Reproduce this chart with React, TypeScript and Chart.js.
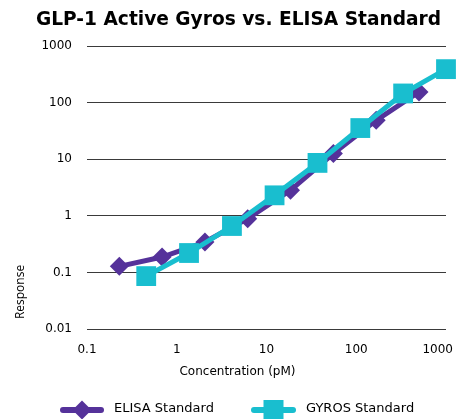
import React, { useEffect, useRef } from "react";
import { Chart, registerables } from "chart.js";

Chart.register(...registerables);

const chartTitle = "GLP-1 Active Gyros vs. ELISA Standard";
const xAxisTitle = "Concentration (pM)";
const yAxisTitle = "Response";

const elisaLabel = "ELISA Standard";
const gyrosLabel = "GYROS Standard";

const elisaX = [0.229, 0.686, 2.06, 6.17, 18.5, 55.6, 166.7, 500];
const elisaY = [0.128, 0.187, 0.344, 0.89, 2.82, 12.6, 48.6, 154];
const gyrosX = [0.457, 1.37, 4.12, 12.3, 37, 111, 333, 1000];
const gyrosY = [0.086, 0.22, 0.66, 2.3, 8.6, 35.5, 145, 390];

const xTickValues = [0.1, 1, 10, 100, 1000];
const xTickLabels = ["0.1", "1", "10", "100", "1000"];
const yTickValues = [0.01, 0.1, 1, 10, 100, 1000];
const yTickLabels = ["0.01", "0.1", "1", "10", "100", "1000"];

const PURPLE = "#55329A";
const CYAN = "#19BECF";
const FONT = "'DejaVu Sans', Verdana, sans-serif";

function drawDiamond(ctx: CanvasRenderingContext2D, x: number, y: number, r: number) {
  ctx.beginPath();
  ctx.moveTo(x, y - r);
  ctx.lineTo(x + r, y);
  ctx.lineTo(x, y + r);
  ctx.lineTo(x - r, y);
  ctx.closePath();
  ctx.fill();
}

const decorPlugin = {
  id: "decor",
  afterDraw(chart: any) {
    const ctx: CanvasRenderingContext2D = chart.ctx;
    const xs = chart.scales.x;
    ctx.save();
    ctx.fillStyle = "#000";
    // title
    ctx.font = `bold 18.6px ${FONT}`;
    ctx.textAlign = "center";
    ctx.textBaseline = "middle";
    ctx.fillText(chartTitle, 238.5, 20);

    // x ticks
    ctx.font = `12px ${FONT}`;
    xTickValues.forEach((v, i) => {
      let px = xs.getPixelForValue(v);
      const w = ctx.measureText(xTickLabels[i]).width;
      if (px + w / 2 > 453) px = 453 - w / 2;
      ctx.fillText(xTickLabels[i], px, 350);
    });

    // x title
    ctx.fillText(xAxisTitle, 237.5, 372);

    // y title
    ctx.save();
    ctx.translate(21, 292);
    ctx.rotate(-Math.PI / 2);
    ctx.font = `12px 'Open Sans', sans-serif`;
    ctx.fillText(yAxisTitle, 0, 0);
    ctx.restore();

    // legend
    const ly = 410;
    ctx.lineCap = "round";
    ctx.lineWidth = 6;
    ctx.strokeStyle = PURPLE;
    ctx.beginPath();
    ctx.moveTo(63, ly);
    ctx.lineTo(101, ly);
    ctx.stroke();
    ctx.fillStyle = PURPLE;
    drawDiamond(ctx, 82, ly, 9.5);

    ctx.strokeStyle = CYAN;
    ctx.beginPath();
    ctx.moveTo(254, ly);
    ctx.lineTo(293, ly);
    ctx.stroke();
    ctx.fillStyle = CYAN;
    ctx.fillRect(263.5, ly - 10, 20, 20);

    ctx.fillStyle = "#000";
    ctx.font = `13px ${FONT}`;
    ctx.textAlign = "left";
    ctx.fillText(elisaLabel, 114, ly - 1);
    ctx.fillText(gyrosLabel, 306, ly - 1);
    ctx.restore();
  },
};

export default function App() {
  const ref = useRef<HTMLCanvasElement | null>(null);
  useEffect(() => {
    if (!ref.current) return;
    document.body.style.margin = "0";
    const chart = new Chart(ref.current, {
      type: "line",
      data: {
        datasets: [
          {
            label: elisaLabel,
            data: elisaX.map((x, i) => ({ x, y: elisaY[i] })),
            borderColor: PURPLE,
            backgroundColor: PURPLE,
            borderWidth: 5,
            pointStyle: "rectRot",
            pointRadius: 9.5,
            pointBorderWidth: 0,
            tension: 0,
            order: 1,
            clip: false,
          },
          {
            label: gyrosLabel,
            data: gyrosX.map((x, i) => ({ x, y: gyrosY[i] })),
            borderColor: CYAN,
            backgroundColor: CYAN,
            borderWidth: 5,
            pointStyle: "rect",
            pointRadius: 14,
            pointBorderWidth: 0,
            tension: 0,
            order: 0,
            clip: false,
          },
        ],
      },
      options: {
        responsive: false,
        animation: false,
        devicePixelRatio: 1,
        layout: { padding: { top: 46, right: 17, bottom: 0, left: 0 } },
        plugins: {
          legend: { display: false },
          title: { display: false },
          tooltip: { enabled: false },
        },
        scales: {
          x: {
            type: "logarithmic",
            min: 0.1,
            max: 1000,
            grid: { display: false },
            border: { display: false },
            ticks: { display: false },
            afterBuildTicks: (s: any) => {
              s.ticks = xTickValues.map((v) => ({ value: v }));
            },
            afterFit: (s: any) => {
              s.height = 90;
            },
          },
          y: {
            type: "logarithmic",
            min: 0.01,
            max: 1000,
            grid: { color: "#3a3a3a", lineWidth: 1, drawTicks: false },
            border: { display: false },
            ticks: {
              color: "#000",
              font: { family: FONT, size: 12 },
              padding: 15,
              autoSkip: false,
              callback: (_v: any, i: number) => yTickLabels[i],
            },
            afterBuildTicks: (s: any) => {
              s.ticks = yTickValues.map((v) => ({ value: v }));
            },
            afterFit: (s: any) => {
              s.width = 87;
            },
          },
        },
      },
      plugins: [decorPlugin],
    } as any);
    return () => chart.destroy();
  }, []);
  return (
    <div style={{ position: "fixed", left: 0, top: 0, width: 463, height: 419 }}>
      <canvas ref={ref} width={463} height={419} style={{ width: 463, height: 419 }} />
    </div>
  );
}
